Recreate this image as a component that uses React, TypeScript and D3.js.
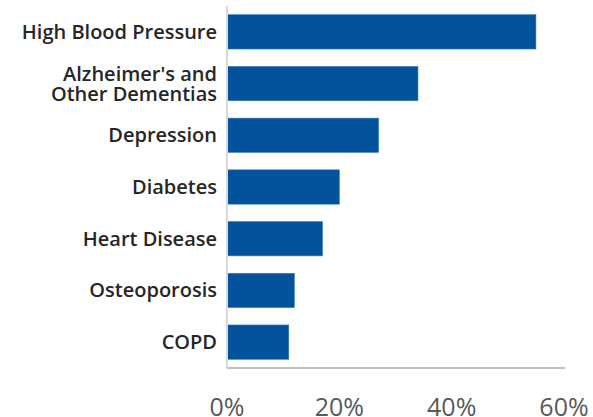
import React from "react";
import * as d3 from "d3";

const categories: string[][] = [
  ["High Blood Pressure"],
  ["Alzheimer's and", "Other Dementias"],
  ["Depression"],
  ["Diabetes"],
  ["Heart Disease"],
  ["Osteoporosis"],
  ["COPD"],
];
const values = [55, 34, 27, 20, 17, 12, 11];
const ticks = [0, 20, 40, 60];

const W = 593;
const H = 417;
const left = 227;
const right = 564;
const top = 6;
const bottom = 368;

export default function App() {
  const x = d3.scaleLinear().domain([0, 60]).range([left, right]);
  const y = d3
    .scaleBand<number>()
    .domain(d3.range(values.length))
    .range([top, bottom])
    .paddingInner(0.336)
    .paddingOuter(0.168);
  const font = "'Open Sans', 'Noto Sans', sans-serif";
  const labelX = 217;

  return (
    <svg
      width={W}
      height={H}
      style={{ position: "absolute", left: 0, top: 0, background: "#fff" }}
    >
      {values.map((v, i) => (
        <rect
          key={i}
          x={x(0)}
          y={y(i)!}
          width={x(v) - x(0)}
          height={y.bandwidth()}
          fill="#02529c"
          stroke="#3c7bbf"
          strokeWidth={0.6}
        />
      ))}
      {categories.map((lines, i) => {
        const cy = y(i)! + y.bandwidth() / 2;
        const lh = 20;
        const start = cy - ((lines.length - 1) * lh) / 2;
        return (
          <text
            key={i}
            x={labelX}
            textAnchor="end"
            fontFamily={font}
            fontWeight={600}
            fontSize={20}
            fill="#262626"
          >
            {lines.map((l, j) => (
              <tspan key={j} x={labelX} y={start + j * lh + 7}>
                {l}
              </tspan>
            ))}
          </text>
        );
      })}
      <line x1={x(0)} x2={x(0)} y1={top} y2={bottom} stroke="#d9d9d9" strokeWidth={2} />
      <line x1={x(0)} x2={x(60) + 1} y1={bottom} y2={bottom} stroke="#bfbfbf" strokeWidth={2} />
      {ticks.map((t) => (
        <text
          key={t}
          x={x(t)}
          y={415.5}
          textAnchor="middle"
          fontFamily={font}
          fontSize={25}
          fill="#595959"
        >
          {t}%
        </text>
      ))}
    </svg>
  );
}
